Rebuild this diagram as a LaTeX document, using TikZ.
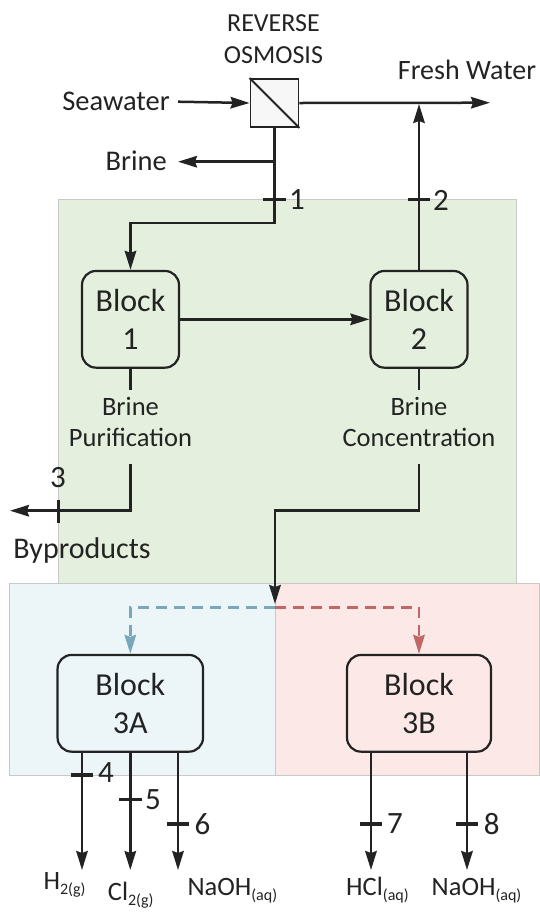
\documentclass[tikz,border=0pt]{standalone}
\usepackage{fontspec}
\setmainfont{Carlito}
\usetikzlibrary{arrows.meta}
\definecolor{ink}{RGB}{35,35,35}
\definecolor{greenbg}{RGB}{228,239,221}
\definecolor{bluebg}{RGB}{236,246,249}
\definecolor{redbg}{RGB}{252,233,231}
\definecolor{edgegray}{RGB}{200,200,200}
\definecolor{bluedash}{RGB}{122,167,186}
\definecolor{reddash}{RGB}{192,104,104}
\begin{document}
\begin{tikzpicture}[x=1pt,y=-1pt,
  line/.style={line width=2.5pt, draw=ink},
  tip/.style={-{Stealth[length=19pt,width=11.5pt,inset=2pt]}},
  arr/.style={line, tip},
  blk/.style={draw=ink, line width=2.2pt, rounded corners=14pt, align=center, inner sep=0pt, text=ink, font=\fontsize{32}{37.5}\selectfont},
  lbl/.style={align=center, font=\fontsize{26.5}{31}\selectfont, inner sep=0pt, text=ink},
  big/.style={font=\fontsize{28.5}{30}\selectfont, inner sep=0pt, text=ink},
  num/.style={font=\fontsize{31}{31}\selectfont, inner sep=0pt, text=ink},
  tickmark/.style={line width=3.3pt, draw=ink},
  chem/.style={anchor=base west, inner sep=0pt, text=ink, font=\fontsize{26.5}{26.5}\selectfont},
  dashflow/.style={line width=2.4pt, dash pattern=on 11pt off 7pt, tip},
]
\useasboundingbox (0,0) rectangle (539,914);
% backgrounds
\filldraw[fill=greenbg, draw=edgegray, line width=1pt] (58.5,199.3) rectangle (516,583.3);
\filldraw[fill=bluebg, draw=edgegray, line width=1pt] (9.3,583.3) rectangle (275,775);
\filldraw[fill=redbg, draw=edgegray, line width=1pt] (275,583.3) rectangle (539,775);

% reverse osmosis
\node[draw=ink, line width=1.8pt, fill=black!3, minimum size=48pt, inner sep=0pt] (ro) at (274.5,103) {};
\draw[line width=1.8pt, draw=ink] (ro.north west) -- (ro.south east);
\node[align=center, inner sep=0pt, text=ink, font=\fontsize{26}{31.7}\selectfont, anchor=north] (rolbl) at (273.5,14.5) {REVERSE\\OSMOSIS};
\node[big, anchor=east] (sea) at (170,101.7) {Seawater};
\node[big, anchor=east] (brine) at (167,160.5) {Brine};
\node[big, font=\fontsize{28}{30}\selectfont] (fresh) at (467,69.5) {Fresh Water};
\coordinate (fwend) at (490,102.7);
\coordinate (brsplit) at (274.5,161.7);
\coordinate (bend1) at (274.5,223);

% blocks
\node[blk, fill=greenbg, minimum width=97pt, minimum height=96.7pt] (b1) at (130.5,319.3) {Block\\1};
\node[blk, fill=greenbg, minimum width=97pt, minimum height=96.7pt] (b2) at (419,319.3) {Block\\2};
\node[blk, fill=bluebg, minimum width=145.5pt, minimum height=96.7pt] (b3a) at (130.3,703.3) {Block\\3A};
\node[blk, fill=redbg, minimum width=144pt, minimum height=96.7pt] (b3b) at (419,703.3) {Block\\3B};

% flows top
\draw[arr] (178,101.7) coordinate (seastart) -- (ro.west);
\draw[arr] (ro.east) -- (fwend);
\draw[arr] (brsplit) -- (178,161.7) coordinate (brend);
\draw[arr] (ro.south) -- (bend1) -| (b1.north);
\draw[arr] (b2.north) -- (419,104);
\draw[arr] (b1.east) -- (b2.west);
\draw[tickmark] (263.2,199.3) -- (285.8,199.3);
\node[num] (n1) at (297,200) {1};
\draw[tickmark] (407.7,199.3) -- (430.3,199.3);
\node[num] (n2) at (441,200) {2};

% block 1 & 2 labels
\node[lbl, anchor=north] (pur) at (130.5,397.3) {Brine\\Purification};
\node[lbl, anchor=north] (con) at (419,397.3) {Brine\\Concentration};
\draw[line] (b1.south) -- (130.5,390);
\draw[line] (b2.south) -- (419,390);
\coordinate (c1) at (130.5,510.7);
\coordinate (byend) at (10,510.7);
\draw[arr] (130.5,464) -- (c1) -- (byend);
\draw[tickmark] (58.5,499.5) -- (58.5,522.5);
\node[num] (n3) at (58,478) {3};
\node[big, font=\fontsize{30}{30}\selectfont] (by) at (82,550) {Byproducts};
\coordinate (split) at (275,607.3);
\draw[arr] (419,464) -- (419,510.7) -| (275,604);

% dashed split
\draw[dashflow, draw=bluedash] (split) -| (b3a.north);
\draw[dashflow, draw=reddash] (split) -| (b3b.north);

% outputs
\draw[arr] (b3a.south -| 82,0) -- (82,870);
\draw[arr] (b3a.south) -- (130.3,870);
\draw[arr] (b3a.south -| 178,0) -- (178,870);
\draw[arr] (b3b.south -| 371,0) -- (371,870);
\draw[arr] (b3b.south -| 467,0) -- (467,870);
\draw[tickmark] (70.7,775) -- (93.3,775);
\node[num] (n4) at (106,773) {4};
\draw[tickmark] (119,799.3) -- (141.6,799.3);
\node[num] (n5) at (153,800) {5};
\draw[tickmark] (166.7,824) -- (189.3,824);
\node[num] (n6) at (202.5,824) {6};
\draw[tickmark] (359.7,824) -- (382.3,824);
\node[num] (n7) at (395,824) {7};
\draw[tickmark] (455.7,824) -- (478.3,824);
\node[num] (n8) at (491.7,824) {8};

\newcommand{\chemsub}[1]{\raisebox{-5pt}{\fontsize{16}{16}\selectfont #1}}
\node[chem] (h2) at (43.3,889.3) {H\chemsub{2(g)}};
\node[chem] (cl2) at (107.7,900.7) {Cl\chemsub{2(g)}};
\node[chem] (naoh1) at (187.3,895.7) {NaOH\chemsub{(aq)}};
\node[chem] (hcl) at (346,895.7) {HCl\chemsub{(aq)}};
\node[chem] (naoh2) at (431.5,895.7) {NaOH\chemsub{(aq)}};
\end{tikzpicture}
\end{document}
